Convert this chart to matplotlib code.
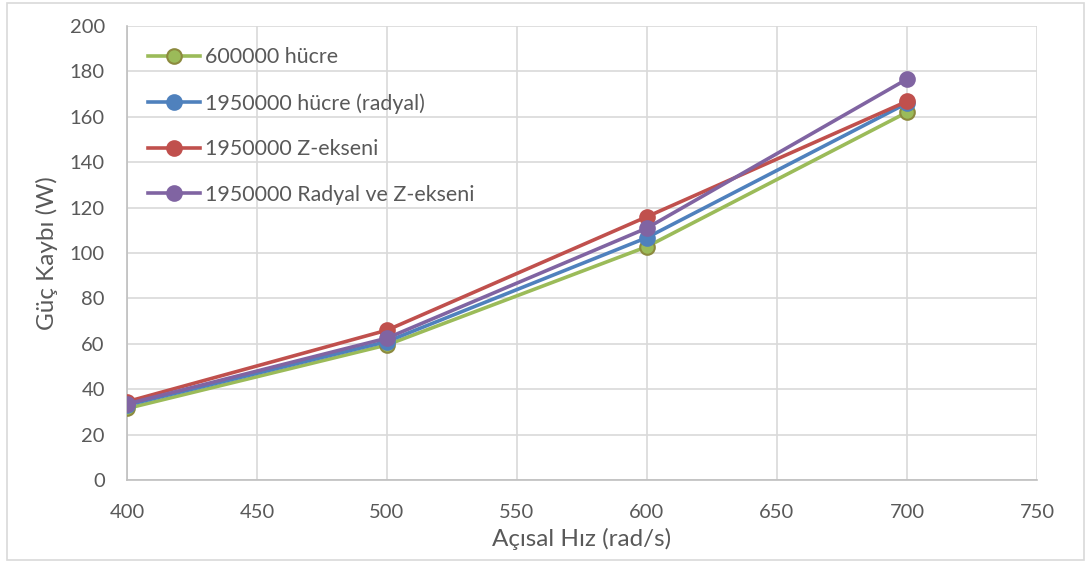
import matplotlib.pyplot as plt
from matplotlib.patches import Rectangle

# angular speed (rad/s) vs. power loss (W) for each mesh
hiz = [400, 500, 600, 700]
kayip_600k = [31.5, 59.5, 102.8, 162.0]
kayip_1950k_radyal = [33.0, 61.0, 106.8, 166.0]
kayip_1950k_z = [34.5, 66.0, 116.0, 166.8]
kayip_1950k_radyal_z = [33.5, 62.5, 111.0, 176.6]

seriler = [
    ('600000 hücre', kayip_600k, '#9BBB59', '#8C8A3E'),
    ('1950000 hücre (radyal)', kayip_1950k_radyal, '#4F81BD', '#4F81BD'),
    ('1950000 Z-ekseni', kayip_1950k_z, '#C0504D', '#C0504D'),
    ('1950000 Radyal ve Z-ekseni', kayip_1950k_radyal_z, '#8064A2', '#8064A2'),
]

plt.rcParams['font.family'] = ['Lato', 'DejaVu Sans']
text_color = '#595959'

fig = plt.figure(figsize=(10.91, 5.63), dpi=100)
ax = fig.add_axes([127 / 1091, 1 - 480 / 563, 910 / 1091, 454 / 563])

for etiket, y, renk, kenar in seriler:
    ax.plot(hiz, y, color=renk, lw=2.6, marker='o', ms=10.5,
            markerfacecolor=renk, markeredgecolor=kenar, markeredgewidth=1.5,
            label=etiket, zorder=3)

ax.set_xlim(400, 750)
ax.set_ylim(0, 200)
ax.set_xticks(range(400, 751, 50))
ax.set_yticks(range(0, 201, 20))
ax.grid(True, color='#D9D9D9', lw=1.2)
ax.set_axisbelow(True)
for s in ['top', 'right']:
    ax.spines[s].set_visible(False)
for s in ['left', 'bottom']:
    ax.spines[s].set_color('#BFBFBF')
    ax.spines[s].set_linewidth(1.2)
ax.tick_params(length=0, labelsize=14.5, colors=text_color)
ax.tick_params(axis='x', pad=17)
ax.tick_params(axis='y', pad=16)

ax.set_xlabel('Açısal Hız (rad/s)', fontsize=17.5, color=text_color, labelpad=5)
ax.set_ylabel('Güç Kaybı (W)', fontsize=17.5, color=text_color, labelpad=8)

leg = ax.legend(loc='upper left', bbox_to_anchor=(0.0, 1.0), frameon=False,
                fontsize=15.4, labelspacing=1.2, handlelength=2.4,
                handletextpad=0.25, borderaxespad=0.6)
for t in leg.get_texts():
    t.set_color(text_color)

# outer chart border
fig.patches.append(Rectangle((7 / 1091, 3 / 563), 1077 / 1091, 557 / 563,
                             transform=fig.transFigure, fill=False,
                             edgecolor='#D9D9D9', lw=1.2))

fig.savefig('out.png', dpi=100)
